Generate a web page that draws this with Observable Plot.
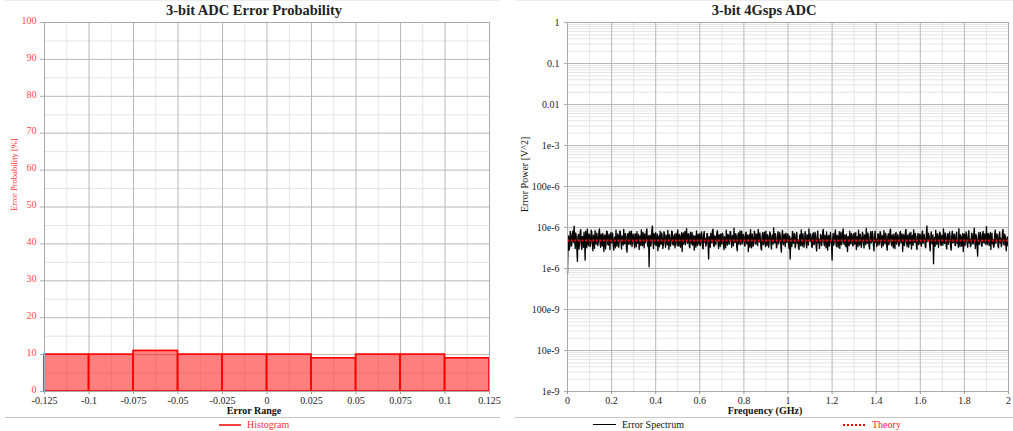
<!DOCTYPE html>
<html><head><meta charset="utf-8">
<script src="https://cdn.jsdelivr.net/npm/d3@7"></script>
<script src="https://cdn.jsdelivr.net/npm/@observablehq/plot@0.6"></script>
<style>
body{margin:0;background:#fff;font-family:"Liberation Serif",serif;}
#wrap{position:relative;width:1013px;height:431px;overflow:hidden;background:#fff;}
.title{position:absolute;top:1px;font-weight:bold;font-size:14.5px;color:#222;transform:translateX(-50%);white-space:nowrap;line-height:18px;}
.sep{position:absolute;top:417px;height:0;border-top:1px solid #c8c8c8;}
.topline{position:absolute;top:0;height:0;border-top:1px solid #eeeeee;}
.leg{position:absolute;top:418px;font-size:10px;white-space:nowrap;line-height:13px;}
.sw{position:absolute;top:424px;height:0;}
.panel{position:absolute;top:0;}
</style>
</head><body>
<div id="wrap">
  <div class="topline" style="left:5px;width:495px"></div>
  <div class="topline" style="left:515px;width:498px"></div>
  <div id="left" class="panel" style="left:0"></div>
  <div id="right" class="panel" style="left:506px"></div>
  <div class="title" style="left:254px">3-bit ADC Error Probability</div>
  <div class="title" style="left:764px">3-bit 4Gsps ADC</div>
  <div class="sep" style="left:5px;width:495px"></div>
  <div class="sep" style="left:515px;width:498px"></div>
  <div class="sw" style="left:219px;width:22px;border-top:2px solid #ff4040"></div>
  <div class="leg" style="left:247px;color:#ff3030">Histogram</div>
  <div class="sw" style="left:593px;width:23px;border-top:1.5px solid #000"></div>
  <div class="leg" style="left:622px;color:#111">Error Spectrum</div>
  <div class="sw" style="left:843px;width:22px;border-top:2px dotted #ff0000"></div>
  <div class="leg" style="left:872px;color:#ff2020">Theory</div>
</div>
<script>
// ---------- Left panel data ----------
const histEdges = [-0.125, -0.1, -0.075, -0.05, -0.025, 0, 0.025, 0.05, 0.075, 0.1, 0.125];
const histProb = [10, 10, 11, 10, 10, 10, 9, 10, 10, 9];
const histYTicks = [0, 10, 20, 30, 40, 50, 60, 70, 80, 90, 100];

// ---------- Right panel data ----------
const specFreqStep = 0.0025; // GHz between spectrum samples
const specPower = [ // error power in 1e-6 V^2
  0.75, 4.1, 6.2, 2.8, 3.4, 8.0, 7.1, 3.5, 4.0, 6.6, 8.3, 4.4, 10.8, 5.0, 3.1, 7.4, 5.6, 2.9, 1.5, 6.3,
  6.8, 3.0, 4.4, 7.9, 8.9, 3.8, 2.9, 6.1, 5.2, 3.3, 7.6, 4.7, 1.6, 8.2, 4.9, 3.2, 9.1, 4.5, 3.6, 7.0,
  6.3, 3.4, 4.1, 8.6, 7.8, 4.0, 2.7, 6.5, 5.5, 3.1, 8.4, 4.8, 3.9, 7.3, 6.0, 3.6, 4.6, 7.7, 9.2, 4.2,
  3.3, 6.9, 5.8, 3.5, 7.2, 4.9, 2.6, 6.4, 6.6, 3.0, 4.3, 8.1, 8.0, 3.9, 3.7, 6.8, 5.1, 2.9, 7.4, 4.6,
  4.2, 7.5, 6.9, 3.6, 2.8, 5.4, 5.9, 3.2, 8.6, 4.1, 3.5, 7.0, 6.4, 3.3, 4.8, 8.3, 7.7, 4.4, 3.0, 6.2,
  5.3, 3.7, 9.0, 4.6, 4.0, 7.2, 6.1, 3.1, 2.5, 6.7, 7.3, 3.9, 5.0, 8.0, 3.8, 5.7, 8.2, 3.4, 4.5, 6.9,
  6.7, 4.0, 3.2, 7.1, 5.7, 3.4, 7.9, 4.3, 4.1, 6.8, 2.9, 5.5, 6.2, 3.6, 8.8, 4.9, 3.6, 7.6, 5.4, 3.2,
  7.0, 4.2, 4.7, 8.1, 9.3, 4.0, 3.4, 6.3, 1.1, 5.9, 6.5, 3.5, 4.2, 8.4, 11.0, 4.6, 3.1, 7.2, 5.8, 3.8,
  7.5, 3.6, 4.4, 6.9, 2.7, 5.1, 6.3, 3.4, 8.1, 4.5, 3.9, 7.4, 5.6, 3.1, 4.0, 7.9, 7.2, 4.1, 3.3, 6.5,
  6.0, 3.8, 8.5, 4.3, 2.9, 6.7, 5.2, 3.5, 4.6, 8.2, 7.8, 3.9, 3.7, 6.1, 6.8, 3.2, 4.3, 7.3, 5.5, 3.6,
  8.7, 4.2, 3.5, 6.8, 6.1, 3.3, 4.9, 7.5, 2.6, 5.6, 7.4, 3.9, 5.3, 8.0, 3.8, 6.2, 9.4, 4.5, 4.1, 7.1,
  6.6, 3.4, 3.2, 7.7, 5.9, 4.0, 7.6, 3.7, 4.4, 6.4, 2.8, 5.8, 6.2, 3.3, 8.3, 4.7, 3.6, 6.9, 5.0, 3.9,
  7.1, 3.6, 4.5, 7.8, 6.4, 3.2, 3.0, 6.6, 8.0, 4.3, 5.4, 3.5, 3.9, 7.2, 6.9, 4.1, 1.7, 6.0, 5.7, 3.3,
  7.3, 4.6, 4.2, 8.5, 9.1, 3.7, 3.4, 6.3, 6.0, 3.8, 4.8, 7.6, 8.4, 4.4, 3.1, 6.7, 5.5, 3.4, 7.0, 4.0,
  4.0, 7.3, 6.7, 3.5, 2.9, 6.0, 5.1, 3.2, 8.6, 4.7, 3.7, 6.9, 6.3, 3.9, 4.6, 8.0, 7.8, 4.2, 3.3, 6.4,
  5.8, 3.6, 9.6, 4.5, 4.3, 7.1, 6.5, 3.4, 2.7, 6.2, 7.4, 3.9, 5.2, 8.3, 3.8, 5.9, 8.1, 4.0, 4.7, 6.8,
  6.1, 3.7, 3.5, 7.2, 7.7, 4.0, 4.9, 6.6, 2.6, 5.2, 6.8, 3.3, 8.9, 4.6, 3.2, 7.0, 5.6, 3.5, 4.1, 8.2,
  7.2, 4.4, 3.9, 6.9, 6.4, 3.6, 9.0, 4.8, 4.4, 7.4, 5.3, 3.1, 2.8, 6.1, 7.5, 3.8, 4.0, 7.7, 6.2, 3.4,
  8.2, 4.1, 3.6, 6.7, 5.9, 3.3, 4.5, 7.8, 7.0, 4.2, 3.0, 6.3, 6.6, 3.9, 9.8, 4.7, 4.2, 7.1, 5.4, 3.2,
  3.4, 6.8, 7.9, 4.0, 4.8, 7.5, 6.0, 3.5, 2.5, 6.4, 8.5, 4.3, 3.8, 6.9, 5.7, 3.4, 7.3, 4.6, 4.3, 7.0,
  6.9, 4.0, 3.1, 6.2, 1.7, 5.0, 5.5, 3.4, 8.0, 4.4, 4.1, 7.3, 6.3, 3.2, 3.7, 6.9, 7.6, 4.1, 4.9, 3.3,
  2.9, 6.4, 6.7, 3.6, 8.8, 4.5, 3.5, 7.2, 5.2, 3.3, 4.4, 7.9, 7.1, 3.9, 3.2, 6.6, 6.0, 3.7, 9.2, 4.6,
  4.6, 7.0, 5.8, 3.4, 3.3, 6.9, 7.4, 3.8, 4.0, 7.6, 6.5, 3.5, 2.7, 5.9, 8.3, 4.2, 5.1, 3.1, 3.9, 6.8,
  6.2, 3.6, 4.7, 8.0, 9.0, 4.3, 3.6, 6.5, 5.6, 3.2, 7.8, 4.4, 2.8, 6.3, 6.4, 3.5, 4.3, 7.6, 5.3, 3.8,
  1.6, 5.2, 7.2, 3.7, 4.5, 7.0, 8.7, 4.1, 3.4, 6.5, 6.1, 3.3, 5.0, 7.9, 3.1, 5.7, 7.7, 3.8, 4.2, 7.4,
  9.3, 4.4, 3.8, 6.6, 5.9, 3.4, 6.8, 4.0, 2.6, 6.1, 5.4, 3.6, 8.1, 4.3, 4.0, 7.2, 6.6, 3.9, 3.5, 6.7,
  7.3, 3.9, 4.8, 7.5, 2.9, 5.6, 6.0, 3.4, 8.6, 4.6, 3.7, 6.9, 5.5, 3.3, 4.3, 7.7, 7.0, 4.0, 3.2, 6.6,
  6.3, 3.8, 9.5, 4.5, 4.1, 7.4, 5.7, 3.5, 3.0, 6.2, 7.9, 4.2, 4.6, 8.0, 6.5, 3.6, 2.7, 5.8, 8.2, 4.4,
  5.2, 3.4, 3.9, 7.1, 6.8, 3.7, 4.4, 7.9, 7.5, 4.1, 3.3, 6.4, 5.8, 3.6, 8.4, 4.5, 4.0, 7.3, 6.2, 3.5,
  2.8, 6.0, 7.1, 3.8, 4.7, 8.2, 9.1, 4.3, 3.6, 6.6, 5.4, 3.2, 6.9, 4.2, 3.1, 7.0, 7.6, 3.9, 4.5, 6.8,
  6.0, 3.5, 3.8, 7.4, 8.0, 4.2, 5.1, 7.0, 2.6, 5.3, 6.7, 3.6, 4.2, 7.8, 9.0, 4.4, 3.4, 6.5, 5.6, 3.3,
  7.3, 4.0, 4.9, 7.6, 3.0, 5.5, 6.4, 3.7, 8.8, 4.6, 4.3, 7.2, 5.9, 3.4, 2.9, 6.1, 7.2, 3.8, 4.1, 6.9,
  6.6, 3.9, 3.5, 7.0, 8.3, 4.1, 4.6, 6.8, 5.3, 3.4, 3.2, 7.5, 11.0, 4.5, 4.8, 7.3, 6.1, 3.6, 2.7, 5.9,
  7.8, 4.2, 4.0, 6.6, 1.3, 4.9, 5.7, 3.5, 8.5, 4.4, 3.9, 7.1, 6.3, 3.3, 4.4, 7.7, 7.4, 4.0, 3.6, 6.5,
  5.5, 3.7, 9.2, 4.3, 4.1, 7.4, 6.8, 3.5, 3.0, 6.1, 7.1, 3.9, 4.7, 7.8, 5.9, 3.4, 2.8, 6.3, 8.1, 4.2,
  4.3, 7.0, 6.5, 3.6, 3.7, 6.9, 7.7, 4.1, 5.0, 3.3, 9.4, 4.6, 3.4, 6.7, 6.0, 3.5, 4.5, 7.2, 2.6, 5.8,
  7.0, 3.6, 4.9, 7.8, 6.2, 3.9, 3.3, 6.5, 8.4, 4.2, 5.2, 3.4, 3.8, 7.3, 6.9, 4.0, 4.0, 7.1, 9.6, 4.5,
  3.1, 6.8, 5.8, 3.5, 2.0, 5.4, 7.5, 3.9, 4.6, 7.6, 6.4, 3.6, 3.5, 6.9, 8.0, 4.3, 4.2, 7.0, 5.6, 3.8,
  10.5, 4.4, 3.9, 7.2, 6.7, 3.6, 4.4, 7.5, 2.9, 5.7, 7.3, 4.0, 5.1, 3.3, 3.6, 6.8, 8.6, 4.1, 4.8, 7.0,
  6.1, 3.5, 3.2, 6.6, 7.8, 4.2, 5.4, 3.4, 4.0, 7.4, 9.0, 4.3, 3.7, 6.9, 6.3, 3.8, 2.7, 5.5, 5.9, 3.6,
  4.6
];
const theoryPower = 4.8; // 1e-6 V^2
const specXTicks = [0, 0.2, 0.4, 0.6, 0.8, 1, 1.2, 1.4, 1.6, 1.8, 2];
const specYTicks = [1e-9, 1e-8, 1e-7, 1e-6, 1e-5, 1e-4, 1e-3, 1e-2, 1e-1, 1];
const specYLabels = ["1e-9", "10e-9", "100e-9", "1e-6", "10e-6", "100e-6", "1e-3", "0.01", "0.1", "1"];

// ---------- derived tables ----------
const histTable = histProb.map((p, i) => ({x1: histEdges[i], x2: histEdges[i + 1], p}));
const histXMinor = d3.pairs(histEdges).map(([a, b]) => (a + b) / 2);
const histYMinor = d3.pairs(histYTicks).map(([a, b]) => (a + b) / 2);
const specTable = specPower.map((v, i) => ({f: i * specFreqStep, p: v * 1e-6}));
const specXMinor = d3.pairs(specXTicks).map(([a, b]) => (a + b) / 2);
const specYMinor = specYTicks.slice(0, -1).flatMap(d => [2, 3, 4, 5, 6, 7, 8, 9].map(k => d * k));

const MAJ = "#b8b8b8", MIN = "#e4e4e4";
const font = {fontFamily: "'Liberation Serif', serif", fontSize: "10px", background: "transparent"};

const left = Plot.plot({
  width: 506, height: 420,
  marginTop: 22, marginBottom: 29, marginLeft: 44, marginRight: 17,
  style: font,
  x: {domain: [-0.125, 0.125], axis: null},
  y: {domain: [0, 100], axis: null},
  marks: [
    Plot.ruleX(histXMinor, {stroke: MIN}),
    Plot.ruleY(histYMinor, {stroke: MIN}),
    Plot.ruleX(histEdges, {stroke: MAJ}),
    Plot.ruleY(histYTicks, {stroke: MAJ}),
    Plot.rectY(histTable, {x1: "x1", x2: "x2", y: "p", fill: "#ff0000", fillOpacity: 0.5, stroke: "#ff0000", strokeWidth: 1.6}),
    Plot.frame({stroke: "#aaa"}),
    Plot.axisX({ticks: histEdges, tickFormat: d => String(d), tickSize: 3, tickPadding: 2, stroke: "#999", color: "#222", label: null}),
    Plot.axisY({ticks: histYTicks, tickFormat: () => "", tickSize: 4, color: "#aaa", label: null}),
    Plot.axisY({ticks: histYTicks, tickFormat: d => String(d), tickSize: 0, tickPadding: 8, color: "#ff4a4a", label: null, dy: -2}),
    Plot.text(["Error Range"], {frameAnchor: "bottom", dy: 22, fontWeight: "bold", fontSize: 10, fill: "#111", dx: -13}),
    Plot.text(["Error Probability [%]"], {frameAnchor: "left", rotate: -90, dx: -30, dy: 4, fill: "#ff3030", fontSize: 8.5})
  ]
});
document.getElementById("left").appendChild(left);

const right = Plot.plot({
  width: 507, height: 420,
  marginTop: 22, marginBottom: 29, marginLeft: 61, marginRight: 5,
  style: font,
  x: {domain: [0, 2], axis: null},
  y: {type: "log", domain: [1e-9, 1], axis: null},
  marks: [
    Plot.ruleX(specXMinor, {stroke: MIN}),
    Plot.ruleY(specYMinor, {stroke: MIN}),
    Plot.ruleX(specXTicks, {stroke: MAJ}),
    Plot.ruleY(specYTicks, {stroke: MAJ}),
    Plot.line(specTable, {x: "f", y: "p", stroke: "#000", strokeWidth: 1.3}),
    Plot.ruleY([theoryPower * 1e-6], {stroke: "#ff0000", strokeWidth: 2, strokeDasharray: "2,1.6"}),
    Plot.frame({stroke: "#aaa"}),
    Plot.axisX({ticks: specXTicks, tickFormat: d => String(d), tickSize: 3, tickPadding: 2, stroke: "#999", color: "#222", label: null}),
    Plot.axisY({ticks: specYTicks, tickFormat: () => "", tickSize: 3, color: "#aaa", label: null}),
    Plot.axisY({ticks: specYTicks, tickFormat: d => specYLabels[specYTicks.indexOf(d)], tickSize: 0, tickPadding: 8, color: "#222", label: null}),
    Plot.text(["Frequency (GHz)"], {frameAnchor: "bottom", dy: 22, fontWeight: "bold", fontSize: 10, fill: "#111", dx: -23}),
    Plot.text(["Error Power [V^2]"], {frameAnchor: "left", rotate: -90, dx: -43, dy: 5, fill: "#111", fontSize: 10})
  ]
});
document.getElementById("right").appendChild(right);
</script>
</body></html>
